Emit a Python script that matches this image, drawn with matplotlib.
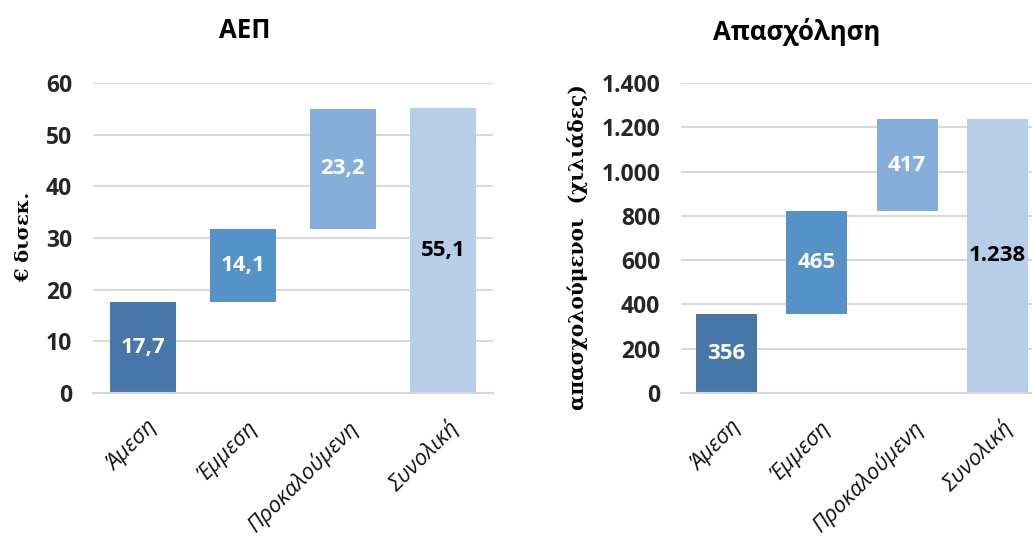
import matplotlib
matplotlib.use("Agg")
import matplotlib.pyplot as plt
from matplotlib.ticker import FuncFormatter, MultipleLocator
from matplotlib.transforms import ScaledTranslation
import numpy as np

plt.rcParams['font.family'] = ['Open Sans', 'DejaVu Sans']

categories = ["Άμεση", "Έμμεση", "Προκαλούμενη", "Συνολική"]
gdp_parts = [17.7, 14.1, 23.2]
gdp_total = 55.1
gdp_labels = ["17,7", "14,1", "23,2", "55,1"]
emp_parts = [356, 465, 417]
emp_total = 1238
emp_labels = ["356", "465", "417", "1.238"]

colors = ["#4677A8", "#5592C8", "#86AEDB", "#B8CDE8"]
label_colors = ["white", "white", "white", "black"]

fig = plt.figure(figsize=(10.32, 5.44), dpi=100)

def waterfall(ax, parts, total, labels, ymax, step, fmt, barw):
    bottoms = list(np.concatenate([[0], np.cumsum(parts)[:-1]])) + [0]
    heights = list(parts) + [total]
    x = np.arange(len(categories))
    ax.bar(x, heights, bottom=bottoms, width=barw, color=colors, zorder=2)
    for xi, b, h, lab, c in zip(x, bottoms, heights, labels, label_colors):
        ax.text(xi, b + h / 2, lab, ha='center', va='center', color=c,
                fontsize=16, fontweight='bold', zorder=3)
    ax.set_xlim(-0.5, len(categories) - 0.5)
    ax.set_ylim(0, ymax)
    ax.yaxis.set_major_locator(MultipleLocator(step))
    ax.yaxis.set_major_formatter(FuncFormatter(fmt))
    ax.grid(axis='y', color='#D9D9D9', linewidth=1.5, zorder=0)
    ax.set_axisbelow(True)
    for s in ['top', 'right', 'left']:
        ax.spines[s].set_visible(False)
    ax.spines['bottom'].set_color('#D9D9D9')
    ax.spines['bottom'].set_linewidth(1.5)
    ax.tick_params(axis='both', length=0)
    ax.tick_params(axis='y', pad=15, labelsize=16.5, labelcolor='#262626')
    ax.set_xticks(x)
    ax.set_xticklabels(categories, rotation=45, ha='right', rotation_mode='anchor',
                       fontsize=16, fontstyle='italic', color='#111111')
    ax.tick_params(axis='x', pad=17)
    off = ScaledTranslation(0.04, 0, fig.dpi_scale_trans)
    for t in ax.get_xticklabels():
        t.set_transform(t.get_transform() + off)
    for t in ax.get_yticklabels():
        t.set_fontweight('bold')

ax1 = fig.add_axes([93 / 1032, 1 - 393 / 544, 400 / 1032, 310 / 544])
waterfall(ax1, gdp_parts, gdp_total, gdp_labels, 60, 10,
          lambda v, p: f"{int(v)}", 0.66)

ax2 = fig.add_axes([681 / 1032, 1 - 393 / 544, 362 / 1032, 310 / 544])
waterfall(ax2, emp_parts, emp_total, emp_labels, 1400, 200,
          lambda v, p: f"{int(v):,}".replace(",", "."), 0.67)

fig.text(245 / 1032, 1 - 30 / 544, "ΑΕΠ", ha='center', va='center',
         fontsize=18.5, fontweight='bold')
fig.text(797 / 1032, 1 - 32 / 544, "Απασχόληση", ha='center', va='center',
         fontsize=18.5, fontweight='bold')

fig.text(24 / 1032, 1 - 237 / 544, "€ δισεκ.", rotation=90, ha='center', va='center',
         fontsize=14, fontweight='bold', family=['DejaVu Serif'])
fig.text(577 / 1032, 1 - 247 / 544, "απασχολούμενοι  (χιλιάδες)", rotation=90,
         ha='center', va='center', fontsize=14.5, fontweight='bold',
         family=['DejaVu Serif'])

fig.savefig("out.png", dpi=100)
